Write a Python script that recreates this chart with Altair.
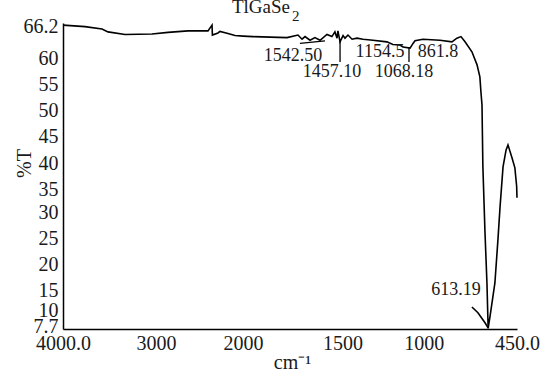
import altair as alt
import pandas as pd

# ---- data ----
wn_main = [4000, 3756, 3567, 3500, 3311, 3011, 2833, 2611, 2389, 2344,
           2340, 2278, 2256, 2167, 2089, 2000, 1943, 1847, 1751, 1689,
           1666, 1649, 1621, 1593, 1564, 1525, 1497, 1480, 1468, 1463,
           1451, 1434, 1423, 1406, 1383, 1355, 1321, 1265, 1186, 1152,
           1112, 1095, 1055, 1038, 1027, 982, 886, 818, 790, 767,
           744, 705, 676, 660, 654, 648, 643, 631, 620, 613.19,
           603, 575, 558, 546, 529, 512, 501, 478, 462, 452, 450]
t_main = [65.8, 65.5, 65.05, 64.5, 64.0, 64.1, 64.4, 64.7, 64.7, 65.8,
          63.9, 64.3, 64.6, 64.2, 63.8, 63.7, 63.6, 63.5, 63.4, 63.9,
          63.1, 63.6, 62.9, 63.4, 62.9, 64.0, 63.6, 64.5, 63.3, 64.7,
          62.6, 63.8, 63.3, 63.9, 63.1, 63.3, 63.1, 62.9, 62.6, 62.1,
          62.0, 61.6, 61.4, 62.3, 62.8, 63.1, 62.9, 62.6, 63.3, 63.6,
          62.6, 60.7, 58.2, 55.9, 53.0, 50.5, 38.7, 26.1, 16.5, 7.8,
          10.0, 16.5, 24.7, 31.0, 38.7, 41.9, 42.9, 40.4, 38.5, 35.0, 32.8]
wn_stub = [705, 671, 631, 613.19]
t_stub = [11.9, 10.8, 8.9, 7.9]

peak_labels = ["1542.50", "1457.10", "1154.5", "1068.18", "861.8", "613.19"]
peak_label_wn = [1717, 1497, 1225, 1089, 897, 795]
peak_label_t = [59.9, 56.8, 60.65, 56.8, 60.65, 15.2]

mark_wn = [1451, 1061, 1678]
mark_wn2 = [1451, 1061, 1536]
mark_t1 = [62.95, 61.6, 62.3]
mark_t2 = [58.75, 58.75, 62.8]

x_ticks = [4000, 3000, 2000, 1500, 1000, 450]
y_ticks = [66.2, 60, 55, 50, 45, 40, 35, 30, 25, 20, 15, 10, 7.7]

title_main = "TlGaSe"
title_sub = "2"

# ---- tables ----
rows = []
for i, (w, t) in enumerate(zip(wn_main, t_main)):
    rows.append({"seg": "main", "idx": i, "wn": w, "t": t})
for i, (w, t) in enumerate(zip(wn_stub, t_stub)):
    rows.append({"seg": "stub", "idx": i, "wn": w, "t": t})
df = pd.DataFrame(rows)
lab_df = pd.DataFrame({"label": peak_labels, "wn": peak_label_wn, "t": peak_label_t})
rule_df = pd.DataFrame({"wn": mark_wn, "wn2": mark_wn2, "t1": mark_t1, "t2": mark_t2})
title_df = pd.DataFrame({"main": [title_main], "sub": [title_sub]})

FONT = "Liberation Serif"
TXT = "#1a1a1a"

xscale = alt.Scale(domain=[4000, 2000, 450], range=[0, 180, 454], zero=False, nice=False)
yscale = alt.Scale(domain=[7.7, 66.2], zero=False, nice=False)

xaxis = alt.Axis(values=x_ticks, title="cm⁻¹",
                 labelExpr="datum.value == 4000 ? '4000.0' : (datum.value == 450 ? '450.0' : '' + datum.value)",
                 labelOverlap=False, labelFlush=False, labelBound=False, labelPadding=4,
                 labelOffset={"condition": [
                     {"test": "datum.value == 1500", "value": 11},
                     {"test": "datum.value == 1000", "value": 4},
                     {"test": "datum.value == 3000", "value": 3}], "value": 0},
                 titleX=229, titleY=39, titleAlign="center", titleBaseline="alphabetic")
yaxis = alt.Axis(values=y_ticks, title="%T", labelExpr="'' + datum.value",
                 labelOverlap=False, labelSeparation=0, labelFlush=False, labelBound=False,
                 labelPadding=5, labelBaseline="middle",
                 labelOffset={"condition": [
                     {"test": "datum.value == 10", "value": -6},
                     {"test": "datum.value == 7.7", "value": -3},
                     {"test": "datum.value >= 35", "value": 3}], "value": 0},
                 titleAngle=270, titleX=-39, titleY=140, titleAlign="center",
                 titleBaseline="middle")

line = alt.Chart(df).mark_line(color="black", strokeWidth=1.6).encode(
    x=alt.X("wn:Q", scale=xscale, axis=xaxis),
    y=alt.Y("t:Q", scale=yscale, axis=yaxis),
    detail="seg:N",
    order="idx:Q",
)

labels = alt.Chart(lab_df).mark_text(font=FONT, fontSize=18, color=TXT,
                                     align="center", baseline="middle").encode(
    x=alt.X("wn:Q", scale=xscale, axis=xaxis),
    y=alt.Y("t:Q", scale=yscale, axis=yaxis),
    text="label:N")

rules = alt.Chart(rule_df).mark_rule(color="black", strokeWidth=1.3).encode(
    x=alt.X("wn:Q", scale=xscale, axis=xaxis), x2="wn2:Q",
    y=alt.Y("t1:Q", scale=yscale, axis=yaxis), y2="t2:Q")

title_a = alt.Chart(title_df).mark_text(font=FONT, fontSize=19, color=TXT,
                                        align="right", baseline="alphabetic").encode(
    x=alt.value(227), y=alt.value(-10), text="main:N")
title_b = alt.Chart(title_df).mark_text(font=FONT, fontSize=15, color=TXT,
                                        align="left", baseline="alphabetic").encode(
    x=alt.value(229), y=alt.value(-2), text="sub:N")

chart = alt.layer(line, rules, labels, title_a, title_b).properties(
    width=474, height=306,
    autosize=alt.AutoSizeParams(type="none"),
    padding={"left": 63, "top": 23, "right": 14, "bottom": 47},
).configure(background="white").configure_view(stroke=None).configure_axis(
    domainColor="black", domainWidth=1.5, ticks=False, grid=False,
    labelOverlap=False, labelFont=FONT, labelFontSize=20, labelColor=TXT,
    titleFont=FONT, titleFontWeight="normal", titleColor=TXT, titleFontSize=20,
)

chart.save("out.html", embed_options={"renderer": "svg", "actions": False})
